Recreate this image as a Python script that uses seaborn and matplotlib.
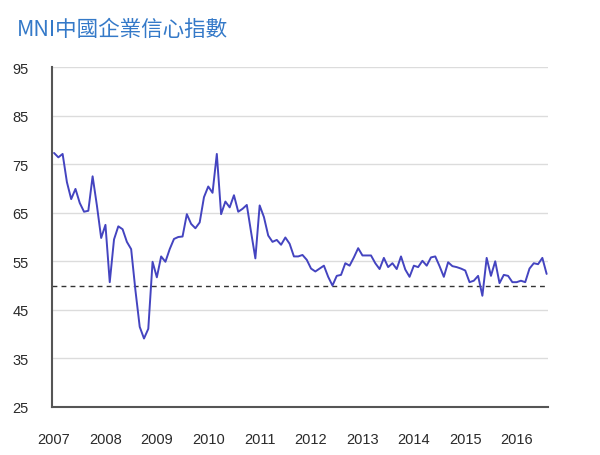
import numpy as np
import pandas as pd
import matplotlib
matplotlib.use("Agg")
import matplotlib.pyplot as plt
import seaborn as sns

# MNI China business sentiment, monthly Jan 2007 - Aug 2016
start_year = 2007
values = [
    77.3, 76.4, 77.1, 71.3, 67.8, 69.9, 67.0, 65.2, 65.4, 72.5, 66.5, 59.8,
    62.5, 50.7, 59.5, 62.2, 61.6, 59.0, 57.5, 49.0, 41.5, 39.1, 41.1, 54.9,
    51.7, 56.0, 54.9, 57.5, 59.6, 60.0, 60.1, 64.7, 62.7, 61.8, 63.0, 68.2,
    70.4, 69.1, 77.1, 64.7, 67.3, 66.1, 68.6, 65.2, 65.8, 66.6, 61.0, 55.6,
    66.5, 64.1, 60.3, 59.0, 59.4, 58.4, 59.9, 58.6, 56.0, 56.0, 56.3, 55.3,
    53.5, 52.9, 53.5, 54.1, 51.8, 50.0, 52.0, 52.2, 54.6, 54.1, 55.8, 57.7,
    56.2, 56.2, 56.2, 54.6, 53.4, 55.7, 53.8, 54.6, 53.4, 56.0, 53.3, 51.8,
    54.1, 53.8, 55.1, 54.1, 55.8, 56.0, 54.0, 51.8, 54.8, 54.0, 53.8, 53.5,
    53.1, 50.7, 51.0, 52.0, 47.9, 55.7, 52.0, 55.0, 50.5, 52.2, 52.0, 50.7,
    50.7, 51.0, 50.7, 53.5, 54.6, 54.4, 55.7, 52.4,
]
year_ticks = list(range(2007, 2017))
y_ticks = [25, 35, 45, 55, 65, 75, 85, 95]
threshold = 50
title = "MNI中國企業信心指數"

df = pd.DataFrame({
    "t": [start_year + i / 12 for i in range(len(values))],
    "index": values,
})

sns.set_style("white")
plt.rcParams["font.family"] = ["Liberation Sans", "Noto Sans CJK TC", "DejaVu Sans"]

fig = plt.figure(figsize=(6, 4.56), dpi=100)
ax = fig.add_axes([52 / 600, 1 - 408 / 456, 496 / 600, 340 / 456])

for v in y_ticks[1:]:
    ax.axhline(v, color="#dcdcdc", lw=1, zorder=0)
ax.axhline(threshold, color="#333333", lw=1, ls=(0, (3.5, 3)), zorder=1)

sns.lineplot(data=df, x="t", y="index", color="#4444c0", lw=1.4, ax=ax, zorder=2)

ax.set_xlim(2007 - 0.04, 2016.61)
ax.set_ylim(25, 95)
ax.set_xticks(year_ticks)
ax.set_xticklabels([str(y) for y in year_ticks])
ax.set_yticks(y_ticks)
ax.tick_params(axis="both", length=0, labelsize=10.5, labelcolor="#2a2a2a")
ax.tick_params(axis="x", pad=18)
ax.tick_params(axis="y", pad=17)
ax.set_xlabel("")
ax.set_ylabel("")

for s in ["top", "right"]:
    ax.spines[s].set_visible(False)
for s in ["left", "bottom"]:
    ax.spines[s].set_color("#555555")
    ax.spines[s].set_linewidth(1.5)

fig.text(17 / 600, 1 - 30 / 456, title, color="#3479c8", fontsize=15.5,
         va="center", ha="left", family=["Noto Sans CJK TC", "DejaVu Sans"])

fig.savefig("out.png", dpi=100)
